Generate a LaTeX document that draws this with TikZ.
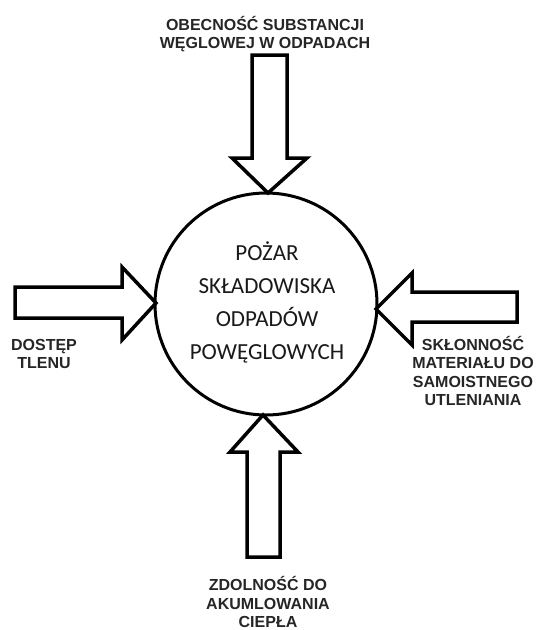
\documentclass[tikz,border=0pt]{standalone}
\usepackage{fontspec}
\setmainfont{Liberation Sans}
\newfontfamily\centerfont{Carlito}
\begin{document}
\begin{tikzpicture}[x=1pt,y=-1pt,
  fatarrow/.style={draw=black,line width=3.5pt,fill=white,line join=miter,miter limit=10},
  lab/.style={font=\fontsize{16}{18.5}\selectfont\bfseries,align=center,text=black!85,inner sep=0pt},
  centre/.style={font=\centerfont\fontsize{23}{33}\selectfont,align=center,text=black!90,inner sep=0pt}]
\useasboundingbox[fill=white] (0,0) rectangle (536,630);
% circle
\node[circle,draw=black,line width=3pt,minimum size=222pt,inner sep=0pt] (c) at (266,304) {};
\node[centre] (t) at (267,302) {POŻAR\\SKŁADOWISKA\\ODPADÓW\\POWĘGLOWYCH};
% arrow tips
\coordinate (tn) at (268,193);
\coordinate (ts) at (263,415);
\coordinate (tw) at (156,303);
\coordinate (te) at (376,309);
% top arrow
\draw[fatarrow] (tn) -- (307,158) -- (287,158) -- (287,55) -- (252,55) -- (252,158) -- (232,158) -- cycle;
% bottom arrow
\draw[fatarrow] (ts) -- (298,452) -- (280,452) -- (280,557) -- (247,557) -- (247,452) -- (230,452) -- cycle;
% left arrow
\draw[fatarrow] (tw) -- (122,267) -- (122,287) -- (15,287) -- (15,318) -- (122,318) -- (122,340) -- cycle;
% right arrow
\draw[fatarrow] (te) -- (412,273) -- (412,292) -- (517,292) -- (517,322) -- (412,322) -- (412,345) -- cycle;
% labels
\node[lab,anchor=center] (ln) at (265,34) {OBECNOŚĆ SUBSTANCJI\\WĘGLOWEJ W ODPADACH};
\node[lab] (lw) at (44,354) {DOSTĘP\\TLENU};
\node[lab] (le) at (473,371) {SKŁONNOŚĆ\\MATERIAŁU DO\\SAMOISTNEGO\\UTLENIANIA};
\node[lab] (ls) at (268,602) {ZDOLNOŚĆ DO\\AKUMLOWANIA\\CIEPŁA};
\end{tikzpicture}
\end{document}
